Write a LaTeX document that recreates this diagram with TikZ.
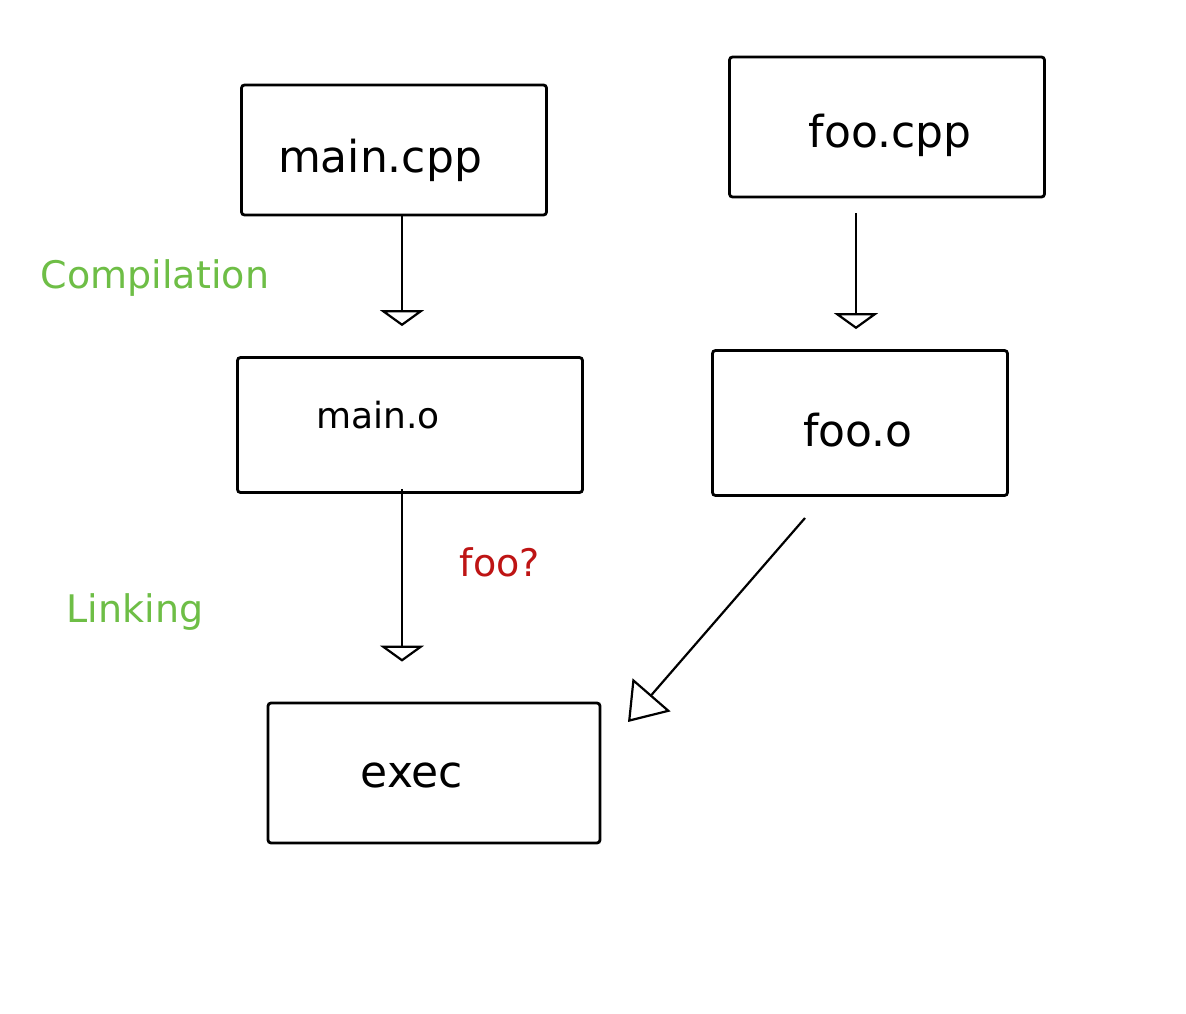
\documentclass[tikz,border=0pt]{standalone}
\usepackage{fontspec}
\setmainfont{DejaVu Sans}
\usetikzlibrary{arrows.meta}
\begin{document}
\begin{tikzpicture}[x=1pt,y=-1pt,
  box/.style={draw=black, line width=2.8pt, rounded corners=3pt, minimum width=#1, inner sep=0pt},
  lbl/.style={font=\fontsize{44}{48}\selectfont},
  conn/.style={draw=black, line width=2.2pt, -{Triangle[open, width=44pt, length=16pt, line width=2.2pt]}},
  note/.style={font=\fontsize{38}{42}\selectfont}
]
\useasboundingbox[fill=white] (0,0) rectangle (1186,1014);
\node[box=305pt, minimum height=130pt] (maincpp) at (394,150) {};
\node[lbl] at (380,160) {main.cpp};
\node[box=315pt, minimum height=140pt] (foocpp) at (887,127) {};
\node[lbl] at (890,135) {foo.cpp};
\node[box=345pt, minimum height=135pt] (maino) at (410,425) {};
\node[lbl, font=\fontsize{36}{40}\selectfont] at (378,415) {main.o};
\node[box=295pt, minimum height=145pt] (fooo) at (860,423) {};
\node[lbl] at (858,430) {foo.o};
\node[box=332pt, minimum height=140pt] (exec) at (434,773) {};
\node[lbl] at (412,775) {exec};

\coordinate (colL) at (402,0);
\coordinate (colR) at (856,0);
\draw[conn, shorten >=30pt] (maincpp.south -| colL) -- (maino.north -| colL);
\draw[conn, shorten <=15pt, shorten >=20pt] (foocpp.south -| colR) -- (fooo.north -| colR);
\draw[conn, shorten <=-5pt, shorten >=40pt] (maino.south -| colL) -- (exec.north -| colL);
\coordinate (fostart) at (805,518);
\coordinate (exend) at (628,722);
\draw[conn, -{Triangle[open, width=50pt, length=36pt, line width=2.2pt]}] (fostart) -- (exend);

\node[note, text={rgb,255:red,110;green,190;blue,70}] (comp) at (155,278) {Compilation};
\node[note, text={rgb,255:red,110;green,190;blue,70}] (link) at (135,612) {Linking};
\node[note, text={rgb,255:red,190;green,20;blue,20}] (fooq) at (500,562) {foo?};
\end{tikzpicture}
\end{document}
